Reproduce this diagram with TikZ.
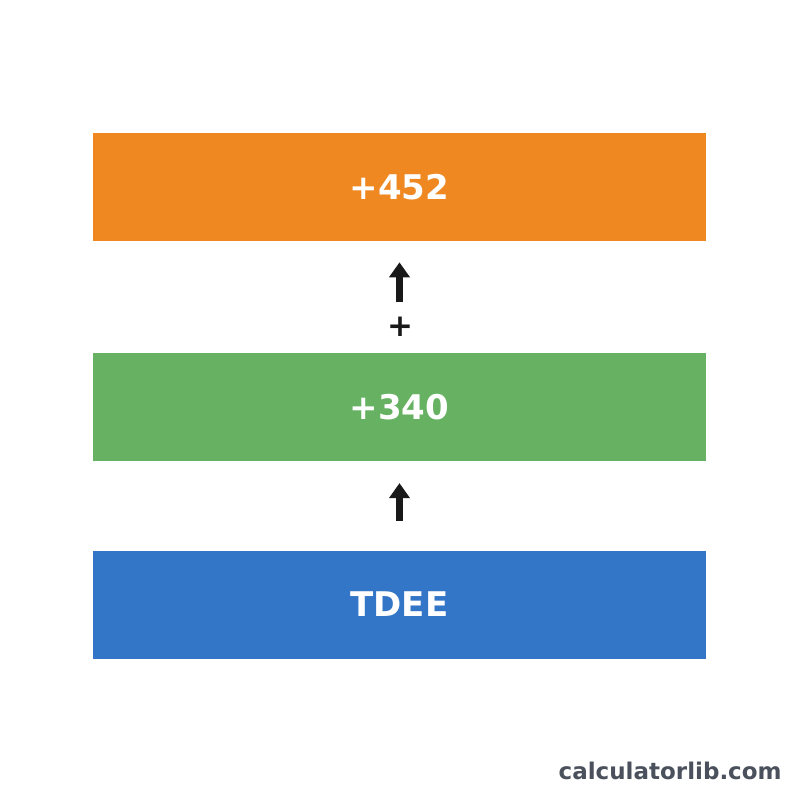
\documentclass[tikz,border=0pt]{standalone}
\usepackage{fontspec}
\setmainfont{DejaVu Sans}
\usepackage{tikz}
\usetikzlibrary{positioning,arrows.meta}
\definecolor{orangebar}{RGB}{240,136,34}
\definecolor{greenbar}{RGB}{102,178,98}
\definecolor{bluebar}{RGB}{51,117,198}
\definecolor{wmgray}{RGB}{74,80,92}
\tikzset{>={Triangle[length=7.5pt,width=10pt]}}
\tikzset{
  bar/.style={rectangle, minimum width=306.5pt, minimum height=54pt,
    inner sep=0pt, text=white, font=\fontsize{17pt}{20pt}\selectfont\bfseries},
  up/.style={->, line width=3.5pt, black!90},
  sign/.style={inner sep=0pt, font=\fontsize{15.5pt}{18pt}\selectfont\bfseries, text=black!90},
  wmark/.style={inner sep=0pt, text=wmgray, font=\fontsize{11.5pt}{14pt}\selectfont\bfseries}
}

\begin{document}
\begin{tikzpicture}[x=0.5pt, y=-0.5pt]

  \useasboundingbox (0,0) rectangle (800,800);

  % Nodes
  \node[bar, fill=bluebar] at (399.5,604.5) (tdee) {TDEE} ;
  \node[bar, fill=greenbar, above=44.5pt of tdee] (step1) {+340} ;
  \node[bar, fill=orangebar, above=55.5pt of step1] (step2) {+452} ;
  \node[sign] at (400,327) (plus) {+} ;
  \node[wmark, anchor=base east] at (782,779) (site) {calculatorlib.com} ;

  % Edges
  \draw[up, shorten <=14.5pt, shorten >=11pt] (tdee) -- (step1);
  \draw[up, shorten <=25pt, shorten >=10.5pt] (step1) -- (step2);

\end{tikzpicture}
\end{document}
